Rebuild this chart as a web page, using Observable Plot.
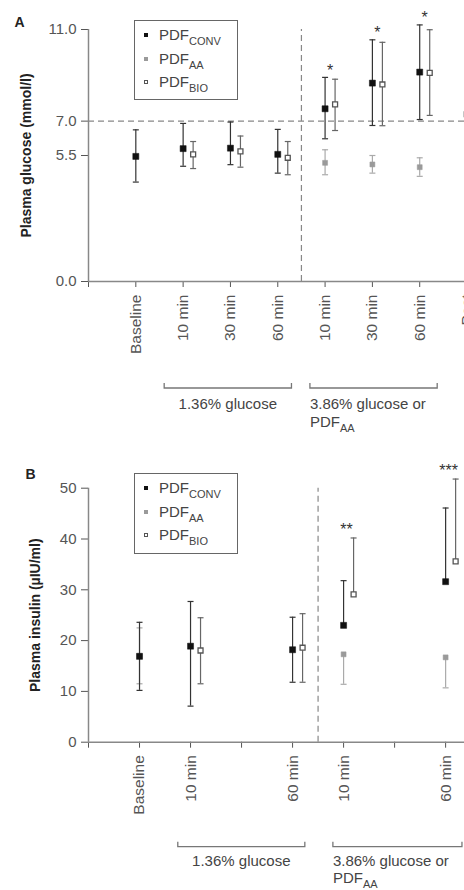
<!DOCTYPE html>
<html><head><meta charset="utf-8">
<script src="https://cdn.jsdelivr.net/npm/d3@7"></script>
<script src="https://cdn.jsdelivr.net/npm/@observablehq/plot@0.6"></script>
<style>
html,body{margin:0;padding:0;background:#fff;overflow:hidden;}
#wrap{position:relative;width:464px;height:890px;overflow:hidden;font-family:"Liberation Sans",Arial,sans-serif;}
.panel{position:absolute;left:0;}
.legend{position:absolute;border:1px solid #666;background:#fff;box-sizing:border-box;width:104px;}
.row{position:absolute;left:0;height:18px;line-height:18px;width:100%;font-size:15px;color:#444;}
.row .mk{position:absolute;left:9px;top:7px;width:4px;height:4px;box-sizing:border-box;}
.row .tx{position:absolute;left:24px;top:0;white-space:nowrap;}
.row .sb{font-size:11px;position:relative;top:5px;}
</style></head><body><div id="wrap"></div>
<script>
// ---------- Panel A: plasma glucose ----------
const labelsA = ["Baseline","10 min","30 min","60 min","10 min","30 min","60 min","Post"];
const ticksYA = [0, 5.5, 7, 11];
const convA   = [5.46, 5.8, 5.82, 5.55, 7.54, 8.66, 9.14, 7.3];
const convALo = [4.34, 5.03, 5.1, 4.73, 6.23, 6.81, 7.07, 5.24];
const convAHi = [6.62, 6.9, 6.96, 6.64, 8.91, 10.55, 11.2, 9.36];
const aaA     = [null, null, null, null, 5.18, 5.11, 4.99, null];
const aaALo   = [null, null, null, null, 4.66, 4.73, 4.59, null];
const aaAHi   = [null, null, null, null, 5.75, 5.5, 5.4, null];
const bioA    = [null, 5.55, 5.68, 5.4, 7.73, 8.6, 9.11, null];
const bioALo  = [null, 4.93, 4.99, 4.66, 6.59, 6.8, 7.25, null];
const bioAHi  = [null, 6.11, 6.35, 6.11, 8.83, 10.44, 10.99, null];
const starsA  = ["", "", "", "", "*", "*", "*", ""];
const thresholdA = 7;
const dividerA = 4.5;
const bracketsA = [
  {start: 1.61, end: 4.3, line1: "1.36% glucose", line2: null, sub: null},
  {start: 4.69, end: 7.38, line1: "3.86% glucose or", line2: "PDF", sub: "AA"}
];

// ---------- Panel B: plasma insulin ----------
const labelsB = ["Baseline","10 min","","60 min","10 min","","60 min"];
const ticksYB = [0, 10, 20, 30, 40, 50];
const convB   = [16.9, 18.9, null, 18.2, 23.0, null, 31.6];
const convBLo = [10.2, 7.1, null, 11.8, 23.0, null, 31.6];
const convBHi = [23.6, 27.7, null, 24.6, 31.8, null, 46.1];
const aaB     = [17.0, null, null, null, 17.3, null, 16.7];
const aaBLo   = [11.5, null, null, null, 11.4, null, 10.7];
const aaBHi   = [22.5, null, null, null, 17.3, null, 16.7];
const bioB    = [null, 18.05, null, 18.6, 29.1, null, 35.6];
const bioBLo  = [null, 11.5, null, 11.8, 29.1, null, 35.6];
const bioBHi  = [null, 24.5, null, 25.3, 40.2, null, 51.8];
const starsB  = ["", "", "", "", "**", "", "***"];
const dividerB = 4.5;
const bracketsB = [
  {start: 1.76, end: 4.25, line1: "1.36% glucose", line2: null, sub: null},
  {start: 4.8, end: 7.33, line1: "3.86% glucose or", line2: "PDF", sub: "AA"}
];

const legendNames = ["CONV", "AA", "BIO"];

// ---------- styles ----------
const FONT = "Liberation Sans, Arial, sans-serif";
const style = {
  CONV: {fill: "#111", stroke: "#111", bar: "#333", dx: 0, r: 3.4, sw: 0.5},
  AA:   {fill: "#9a9a9a", stroke: "#9a9a9a", bar: "#aaa", dx: 0, r: 2.8, sw: 0.5},
  BIO:  {fill: "#fff", stroke: "#555", bar: "#666", dx: 10, r: 2.8, sw: 1.3}
};
const cap = {draw(ctx, size) { const r = Math.sqrt(size / Math.PI); ctx.moveTo(-r, 0); ctx.lineTo(r, 0); }};

function rows(mean, lo, hi) {
  return mean.map((m, i) => ({x: i + 1, mean: m, lo: lo[i], hi: hi[i]})).filter(d => d.mean != null);
}
function seriesMarks(data, s) {
  const st = style[s];
  const lows = data.filter(d => d.lo < d.mean);
  const highs = data.filter(d => d.hi > d.mean);
  return [
    Plot.ruleX(data, {x: "x", y1: "lo", y2: "hi", stroke: st.bar, strokeWidth: 1.2, dx: st.dx}),
    Plot.dot(lows, {x: "x", y: "lo", symbol: cap, r: 3, fill: "none", stroke: st.bar, strokeWidth: 1.2, dx: st.dx}),
    Plot.dot(highs, {x: "x", y: "hi", symbol: cap, r: 3, fill: "none", stroke: st.bar, strokeWidth: 1.2, dx: st.dx}),
    Plot.dot(data, {x: "x", y: "mean", symbol: "square", r: st.r, fill: st.fill, stroke: st.stroke, strokeWidth: st.sw, dx: st.dx})
  ];
}
function starRows(stars, hiArrays) {
  return stars.map((s, i) => ({x: i + 1, s, top: Math.max(...hiArrays.map(a => a[i] ?? -Infinity))})).filter(d => d.s);
}
function addBrackets(plot, brackets, offset, line1, lineGap) {
  const x = plot.scale("x"), y = plot.scale("y");
  const svg = d3.select(plot);
  const y0 = y.apply(0) + offset;
  const g = svg.append("g").attr("font-family", FONT).attr("font-size", 15).attr("fill", "#444").attr("text-anchor", "start");
  for (const b of brackets) {
    const x1 = x.apply(b.start), x2 = x.apply(b.end);
    g.append("path").attr("d", `M${x1},${y0 - 5}V${y0}H${x2}V${y0 - 5}`)
      .attr("fill", "none").attr("stroke", "#777").attr("stroke-width", 1.3);
    if (!b.line2) {
      g.append("text").attr("x", (x1 + x2) / 2).attr("y", y0 + line1).attr("text-anchor", "middle").text(b.line1);
    } else {
      g.append("text").attr("x", x1).attr("y", y0 + line1).attr("text-anchor", "start").text(b.line1);
      const t = g.append("text").attr("x", x1).attr("y", y0 + line1 + lineGap).attr("text-anchor", "start");
      t.append("tspan").text(b.line2);
      t.append("tspan").attr("font-size", 11).attr("dy", 5).text(b.sub);
    }
  }
}
function legend(wrap, left, top, height) {
  const box = document.createElement("div");
  box.className = "legend";
  Object.assign(box.style, {left: left + "px", top: top + "px", height: height + "px"});
  const centers = [14, 38, 61];
  legendNames.forEach((n, i) => {
    const st = style[n];
    const row = document.createElement("div");
    row.className = "row";
    row.style.top = (centers[i] - 9) + "px";
    row.innerHTML = `<span class="mk" style="background:${st.fill};border:${n === "BIO" ? "1px solid " + st.stroke : "none"}"></span>` +
      `<span class="tx">PDF<span class="sb">${n}</span></span>`;
    box.appendChild(row);
  });
  wrap.appendChild(box);
}

const wrap = document.getElementById("wrap");

// ---------- Plot A ----------
const plotA = Plot.plot({
  width: 520, height: 440,
  marginLeft: 88, marginRight: 0, marginTop: 29, marginBottom: 159,
  style: {maxWidth: "none", fontFamily: FONT, background: "transparent"},
  x: {domain: [0, 9.13]},
  y: {domain: [0, 11]},
  marks: [
    Plot.ruleY([thresholdA], {stroke: "#888", strokeDasharray: "6,4", strokeWidth: 1.2}),
    Plot.ruleX([dividerA], {y1: 0, y2: 11, stroke: "#888", strokeDasharray: "6,4", strokeWidth: 1.2}),
    Plot.axisY({ticks: ticksYA, tickFormat: d => d.toFixed(1), tickSize: 7, tickPadding: 5, fontSize: 15, color: "#555", label: null}),
    Plot.axisX({ticks: d3.range(0, labelsA.length + 1), tickFormat: d => d === 0 ? "" : labelsA[d - 1], tickRotate: -90, tickSize: 6, tickPadding: 7, fontSize: 15.5, color: "#555", label: null}),
    Plot.ruleY([0], {stroke: "#888", strokeWidth: 1.5}),
    Plot.ruleX([0], {y1: 0, y2: 11, stroke: "#888", strokeWidth: 1.5}),
    ...seriesMarks(rows(aaA, aaALo, aaAHi), "AA"),
    ...seriesMarks(rows(convA, convALo, convAHi), "CONV"),
    ...seriesMarks(rows(bioA, bioALo, bioAHi), "BIO"),
    Plot.text(starRows(starsA, [convAHi, bioAHi]), {x: "x", y: "top", text: "s", dx: 5, dy: -7, fontSize: 16, fill: "#333"}),
    Plot.text(["Plasma glucose (mmol/l)"], {frameAnchor: "left", text: d => d, textAnchor: "middle", rotate: -90, dx: -62, fontSize: 14, fontWeight: "bold", fill: "#222"}),
    Plot.text(["A"], {frameAnchor: "top-left", text: d => d, textAnchor: "middle", dx: -69, dy: -12, fontSize: 14, fontWeight: "bold", fill: "#222"})
  ]
});
plotA.classList.add("panel");
plotA.style.top = "0px";
addBrackets(plotA, bracketsA, 107, 21, 18);
wrap.appendChild(plotA);
legend(wrap, 134, 20, 80);

// ---------- Plot B ----------
const plotB = Plot.plot({
  width: 464, height: 450,
  marginLeft: 88, marginRight: 0, marginTop: 47.7, marginBottom: 148.3,
  style: {maxWidth: "none", fontFamily: FONT, background: "transparent"},
  x: {domain: [0, 7.37]},
  y: {domain: [0, 50]},
  marks: [
    Plot.ruleX([dividerB], {y1: 0, y2: 50, stroke: "#888", strokeDasharray: "6,4", strokeWidth: 1.2}),
    Plot.axisY({ticks: ticksYB, tickSize: 7, tickPadding: 5, fontSize: 15, color: "#555", label: null}),
    Plot.axisX({ticks: d3.range(0, labelsB.length + 1), tickFormat: d => d === 0 ? "" : labelsB[d - 1], tickRotate: -90, tickSize: 6, tickPadding: 7, fontSize: 15.5, color: "#555", label: null}),
    Plot.ruleY([0], {stroke: "#888", strokeWidth: 1.5}),
    Plot.ruleX([0], {y1: 0, y2: 50, stroke: "#888", strokeWidth: 1.5}),
    ...seriesMarks(rows(aaB, aaBLo, aaBHi), "AA"),
    ...seriesMarks(rows(convB, convBLo, convBHi), "CONV"),
    ...seriesMarks(rows(bioB, bioBLo, bioBHi), "BIO"),
    Plot.text(starRows(starsB, [convBHi, bioBHi]), {x: "x", y: "top", text: "s", dx: 3, dy: -8, fontSize: 16, fill: "#333"}),
    Plot.text(["Plasma insulin (µIU/ml)"], {frameAnchor: "left", text: d => d, textAnchor: "middle", rotate: -90, dx: -53, fontSize: 14, fontWeight: "bold", fill: "#222"}),
    Plot.text(["B"], {frameAnchor: "top-left", text: d => d, textAnchor: "middle", dx: -58, dy: -19, fontSize: 14, fontWeight: "bold", fill: "#222"})
  ]
});
plotB.classList.add("panel");
plotB.style.top = "440px";
addBrackets(plotB, bracketsB, 105, 19, 17);
wrap.appendChild(plotB);
legend(wrap, 134, 473, 81);
</script>
</body></html>
